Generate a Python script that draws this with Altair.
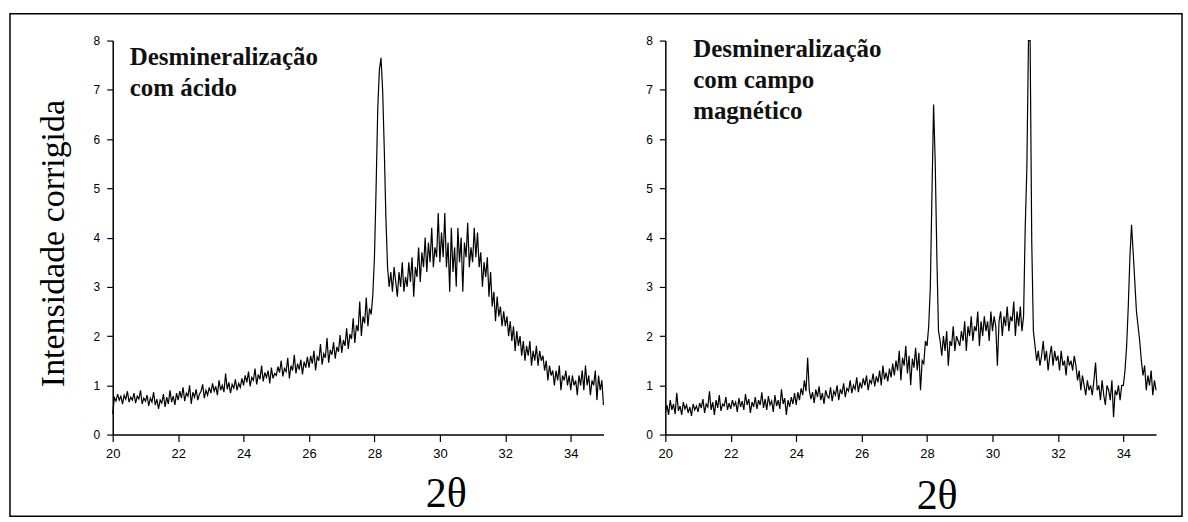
import altair as alt
import pandas as pd

# 2-theta sampling of both scans (start, step)
two_theta_start = 20.0
two_theta_step = 0.05

# Desmineralização com ácido (20.00 ... 35.00)
acid = [
    0.42, 0.75, 0.68, 0.82, 0.70, 0.78, 0.62, 0.80, 0.72, 0.88, 0.66, 0.76, 0.70, 0.84, 0.64, 0.78, 0.72, 0.90, 0.62, 0.74,
    0.68, 0.80, 0.58, 0.74, 0.66, 0.86, 0.60, 0.72, 0.52, 0.70, 0.64, 0.82, 0.56, 0.76, 0.62, 0.90, 0.66, 0.78, 0.60, 0.84,
    0.70, 0.88, 0.74, 0.96, 0.68, 0.84, 0.78, 1.00, 0.62, 0.86, 0.76, 0.92, 0.70, 0.82, 0.88, 1.02, 0.74, 0.90, 0.80, 0.96,
    0.84, 1.04, 0.88, 0.98, 0.80, 1.10, 0.90, 1.00, 0.86, 1.24, 0.92, 1.06, 0.84, 1.02, 0.94, 1.12, 0.90, 1.04, 0.96, 1.14,
    1.00, 1.20, 1.06, 1.28, 0.98, 1.16, 1.10, 1.34, 1.02, 1.22, 1.12, 1.40, 1.08, 1.26, 1.16, 1.30, 1.04, 1.36, 1.14, 1.24,
    1.20, 1.38, 1.26, 1.50, 1.18, 1.34, 1.28, 1.56, 1.14, 1.40, 1.30, 1.62, 1.24, 1.44, 1.32, 1.52, 1.22, 1.48, 1.36, 1.58,
    1.36, 1.60, 1.44, 1.70, 1.30, 1.58, 1.50, 1.84, 1.42, 1.64, 1.56, 1.96, 1.46, 1.72, 1.62, 1.88, 1.54, 1.78, 1.68, 2.02,
    1.66, 1.92, 1.80, 2.16, 1.74, 2.04, 1.94, 2.36, 1.86, 2.22, 2.10, 2.70, 2.00, 2.40, 2.26, 2.78, 2.20, 2.56, 2.44, 2.84,
    3.60, 5.00, 6.60, 7.40, 7.65, 7.00, 5.80, 4.40, 3.40, 3.00, 3.30, 2.90, 3.40, 3.10, 2.80, 3.30, 3.00, 3.50, 2.90, 3.20,
    3.00, 3.50, 3.10, 3.60, 2.80, 3.40, 3.20, 3.80, 3.10, 3.70, 3.40, 4.00, 3.30, 3.90, 3.50, 4.20, 3.40, 3.80, 3.60, 4.50,
    3.50, 4.10, 3.60, 4.50, 3.40, 3.90, 2.90, 4.20, 3.30, 3.80, 3.00, 4.20, 3.50, 4.00, 2.90, 3.90, 3.60, 4.30, 3.40, 3.80,
    3.50, 4.20, 3.60, 4.10, 3.40, 3.70, 3.00, 3.50, 3.20, 3.60, 2.80, 3.30, 2.60, 2.90, 2.30, 2.80, 2.40, 2.60, 2.20, 2.50,
    2.20, 2.40, 2.00, 2.30, 1.90, 2.20, 1.70, 2.10, 1.80, 2.00, 1.60, 1.90, 1.50, 1.80, 1.60, 1.90, 1.40, 1.70, 1.50, 1.80,
    1.40, 1.70, 1.50, 1.60, 1.30, 1.50, 1.10, 1.40, 1.20, 1.30, 1.00, 1.30, 1.10, 1.40, 0.90, 1.20, 1.10, 1.30, 1.00, 1.20,
    0.90, 1.20, 1.00, 1.10, 0.80, 1.20, 1.00, 1.30, 0.90, 1.40, 1.00, 1.20, 0.80, 1.10, 1.00, 1.30, 0.70, 1.20, 0.90, 1.10,
    0.60,
]

# Desmineralização com campo magnético (20.00 ... 35.00)
magnetic = [
    0.45, 0.60, 0.40, 0.70, 0.50, 0.62, 0.42, 0.85, 0.48, 0.58, 0.40, 0.66, 0.52, 0.60, 0.44, 0.56, 0.38, 0.62, 0.50, 0.58,
    0.46, 0.64, 0.54, 0.72, 0.44, 0.62, 0.56, 0.88, 0.50, 0.66, 0.40, 0.70, 0.54, 0.80, 0.48, 0.62, 0.58, 0.76, 0.50, 0.64,
    0.52, 0.70, 0.58, 0.66, 0.46, 0.74, 0.56, 0.68, 0.50, 0.82, 0.60, 0.72, 0.44, 0.66, 0.56, 0.76, 0.52, 0.70, 0.60, 0.86,
    0.54, 0.72, 0.50, 0.78, 0.60, 0.68, 0.46, 0.80, 0.58, 0.70, 0.52, 0.92, 0.62, 0.74, 0.40, 0.70, 0.56, 0.76, 0.62, 0.84,
    0.60, 0.86, 0.70, 0.94, 0.80, 1.10, 0.88, 1.56, 0.90, 0.72, 0.86, 0.64, 0.92, 0.76, 0.98, 0.70, 0.84, 0.62, 0.90, 0.78,
    0.74, 0.96, 0.68, 0.88, 0.80, 1.00, 0.70, 0.92, 0.82, 1.04, 0.76, 0.94, 0.88, 1.10, 0.84, 1.00, 0.92, 1.16, 0.86, 1.06,
    0.94, 1.14, 1.00, 1.20, 0.90, 1.10, 1.04, 1.24, 0.98, 1.18, 1.06, 1.30, 1.00, 1.40, 1.12, 1.26, 1.08, 1.34, 1.16, 1.44,
    1.20, 1.50, 1.30, 1.70, 1.10, 1.56, 1.40, 1.80, 1.24, 1.60, 1.00, 1.54, 1.36, 1.76, 1.30, 1.66, 0.90, 1.50, 1.44, 1.90,
    1.80, 2.20, 3.00, 4.90, 6.70, 5.50, 3.60, 2.10, 1.90, 1.60, 2.00, 1.70, 2.10, 1.40, 1.90, 1.80, 2.20, 1.70, 2.00, 1.90,
    1.80, 2.10, 1.90, 2.30, 1.70, 2.20, 2.00, 2.40, 1.90, 2.20, 2.10, 2.50, 1.80, 2.30, 2.00, 2.40, 2.10, 2.30, 1.90, 2.50,
    2.10, 2.40, 2.20, 1.40, 2.30, 2.50, 2.00, 2.40, 2.20, 2.60, 2.10, 2.40, 2.30, 2.70, 2.00, 2.50, 2.20, 2.60, 2.10, 2.40,
    4.20, 5.40, 8.00, 8.00, 3.90, 2.10, 1.80, 1.50, 1.70, 1.40, 1.60, 1.90, 1.50, 1.70, 1.30, 1.60, 1.80, 1.40, 1.70, 1.50,
    1.60, 1.30, 1.70, 1.40, 1.50, 1.20, 1.60, 1.40, 1.50, 1.30, 1.60, 1.40, 1.10, 1.30, 0.90, 1.20, 1.00, 0.80, 1.10, 0.90,
    1.00, 0.80, 1.10, 1.46, 0.90, 1.00, 0.70, 1.10, 0.80, 0.60, 1.00, 0.90, 0.70, 1.10, 0.35, 0.90, 0.80, 1.00, 0.70, 1.00,
    1.00, 1.30, 1.80, 2.60, 3.60, 4.26, 3.70, 3.10, 2.50, 2.20, 1.90, 1.50, 1.20, 1.40, 0.90, 1.20, 1.00, 1.30, 0.80, 1.10,
    0.90,
]

x_ticks = list(range(20, 36))
y_ticks = [i / 2 for i in range(17)]

text_left = ["Desmineralização", "com ácido"]
text_right = ["Desmineralização", "com campo", "magnético"]

y_title = "Intensidade corrigida"
x_title = "2θ"

PLOT_W, PLOT_H = 492, 395
SERIF = "Liberation Serif, Times New Roman, serif"
SANS = "Liberation Sans, Arial, sans-serif"


def make_df(vals):
    return pd.DataFrame({
        "t": [round(two_theta_start + i * two_theta_step, 2) for i in range(len(vals))],
        "v": vals,
    })


def panel(vals, lines, tx, ty, xtitle_x, xtitle_y, with_ytitle, with_border):
    df = make_df(vals)
    xaxis = alt.Axis(
        values=x_ticks,
        labelExpr="(datum.value % 2 === 0 && datum.value < 35) ? datum.label : ''",
        tickSize={"condition": {"test": "datum.value % 2 === 0", "value": 7}, "value": 4},
        tickColor="black", tickWidth=1.2,
        domainColor="black", domainWidth=1.5,
        labelFont=SANS, labelFontSize=13, labelColor="black",
        labelPadding=6, labelFlush=False, labelOverlap=False,
        grid=False,
        title=x_title, titleFont=SERIF, titleFontSize=42,
        titleFontWeight="normal", titleColor="black",
        titleX=xtitle_x, titleY=xtitle_y, titleBaseline="alphabetic", titleAlign="center",
    )
    yargs = dict(
        values=y_ticks,
        labelExpr="(datum.value % 1 === 0) ? datum.label : ''",
        tickSize={"condition": {"test": "datum.value % 1 === 0", "value": 6}, "value": 3},
        tickColor="black", tickWidth=1.2,
        domainColor="black", domainWidth=1.5,
        labelFont=SANS, labelFontSize=12, labelColor="black",
        labelPadding=7, labelFlush=False, labelOverlap=False,
        grid=False,
    )
    if with_ytitle:
        yaxis = alt.Axis(
            title=y_title, titleFont=SERIF, titleFontSize=34,
            titleFontWeight="normal", titleColor="black",
            titleAngle=270, titleX=-49, titleY=203,
            titleBaseline="alphabetic", titleAlign="center", **yargs)
        ytitle = y_title
    else:
        yaxis = alt.Axis(**yargs)
        ytitle = None

    line = alt.Chart(df).mark_line(color="black", strokeWidth=1.2, interpolate="linear").encode(
        x=alt.X("t:Q", scale=alt.Scale(domain=[20, 35], nice=False, zero=False), axis=xaxis),
        y=alt.Y("v:Q", scale=alt.Scale(domain=[0, 8], nice=False), axis=yaxis, title=ytitle),
    )
    label = alt.Chart(pd.DataFrame({"a": [0]})).mark_text(
        text=lines, align="left", baseline="alphabetic",
        font=SERIF, fontSize=25, fontWeight="bold",
        lineHeight=31, color="#111111",
    ).encode(x=alt.datum(tx), y=alt.datum(ty))
    layers = [line, label]
    if with_border:
        border = alt.Chart(pd.DataFrame({"a": [0]})).mark_rect(
            filled=False, stroke="black", strokeWidth=1.5,
        ).encode(
            x=alt.value(-103), x2=alt.value(1072),
            y=alt.value(-27), y2=alt.value(477),
        )
        layers.append(border)
    return alt.layer(*layers).properties(width=PLOT_W, height=PLOT_H)


left = panel(acid, text_left, 20.52, 7.51, 334, 72, True, True)
right = panel(magnetic, text_right, 20.85, 7.67, 272, 74, False, False)

chart = alt.hconcat(left, right, spacing=62, bounds="flush").properties(
    padding={"left": 8, "top": 11, "right": 4, "bottom": 6},
    background="white",
).configure_view(stroke="transparent")

chart.save("out.html", embed_options={"renderer": "svg", "actions": False})
